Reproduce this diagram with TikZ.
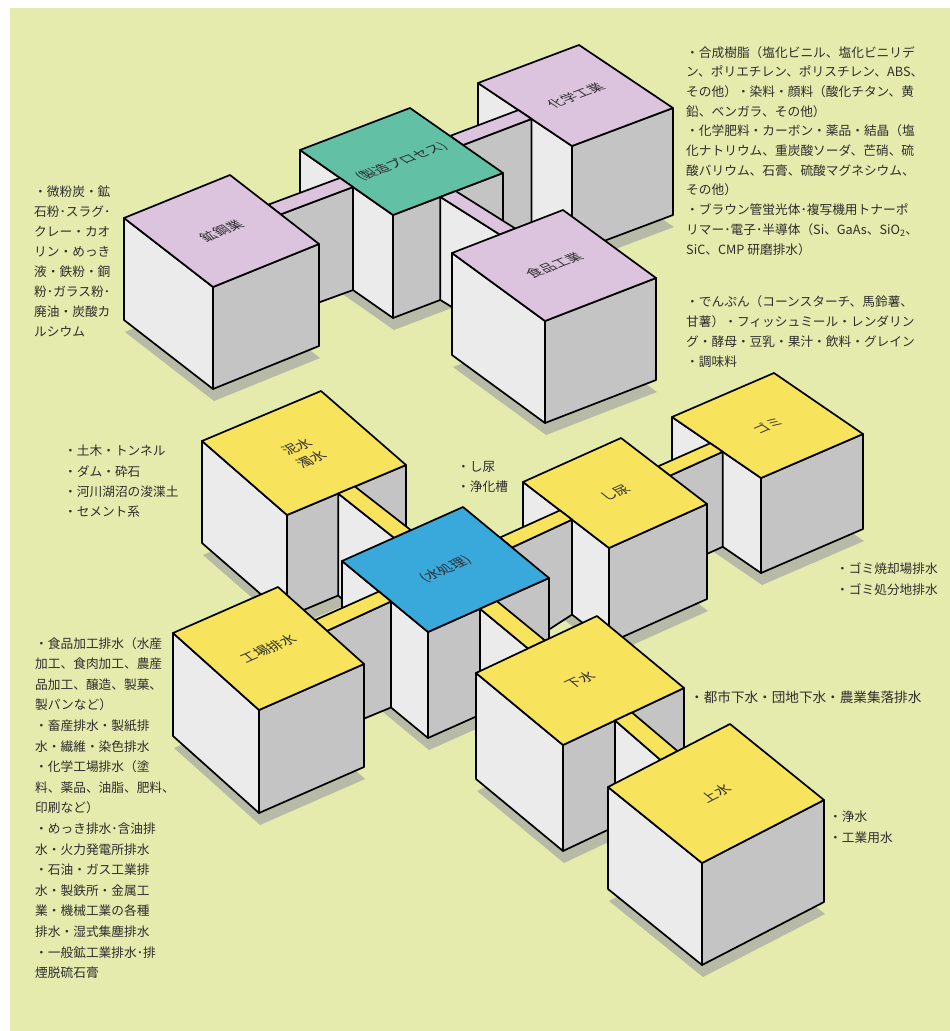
\documentclass[tikz,border=0pt]{standalone}
\usepackage{fontspec}
\newfontfamily\jp{Noto Sans CJK JP}
\usetikzlibrary{calc}
\definecolor{bglime}{HTML}{E4EBAD}
\definecolor{lav}{HTML}{DCC3DE}
\definecolor{tealtop}{HTML}{62C0A4}
\definecolor{yel}{HTML}{F8E45C}
\definecolor{blu}{HTML}{39A8DB}
\definecolor{facelight}{HTML}{EBEBEB}
\definecolor{facegrey}{HTML}{C4C4C4}
\definecolor{shadowc}{HTML}{B7BAA6}
\definecolor{txt}{HTML}{2E2E2E}
\tikzset{
  edgeline/.style={draw=black, line width=1.7pt, line join=round},
  sidetext/.style={font=\jp\fontsize{12.7}{20.3}\selectfont, text=txt, align=left, inner sep=0pt, anchor=north west},
  toplabel/.style={font=\jp\fontsize{14}{19}\selectfont, text=txt, align=center, inner sep=0pt},
}
% cube corner coordinates: L (left), T (top), R (right), B (bottom) of the top face
\newcommand{\defcube}[7]{%
  \coordinate (#1-L) at (#2,#3);
  \coordinate (#1-T) at ({#2+(#4)},{#3+(#5)});
  \coordinate (#1-R) at ({#2+(#4)+(#6)},{#3+(#5)+(#7)});
  \coordinate (#1-B) at ({#2+(#6)},{#3+(#7)});
}
\newcommand{\cubeshadow}[2]{%
  \fill[shadowc] ($(#1-L)+(1,#2+12)$) -- ($(#1-B)+(1,#2+12)$) -- ($(#1-R)+(1,#2+12)$) -- ($(#1-T)+(1,#2+12)$) -- cycle;
}
\newcommand{\drawcube}[3]{%
  \filldraw[edgeline, fill=facelight] (#1-L) -- (#1-B) -- ($(#1-B)+(0,#2)$) -- ($(#1-L)+(0,#2)$) -- cycle;
  \filldraw[edgeline, fill=facegrey] (#1-B) -- (#1-R) -- ($(#1-R)+(0,#2)$) -- ($(#1-B)+(0,#2)$) -- cycle;
  \filldraw[edgeline, fill=#3] (#1-L) -- (#1-T) -- (#1-R) -- (#1-B) -- cycle;
}
% beam along u: #1 front cube A (height #2), #3 back cube B (height #4), colour #5
\newcommand{\ubeam}[5]{%
  \coordinate (bm1) at ($(#1-T)!0.43!(#1-R)$);
  \coordinate (bm2) at ($(#1-T)!0.57!(#1-R)$);
  \coordinate (bm3) at ($(#3-L)!0.57!(#3-B)$);
  \coordinate (bm4) at ($(#3-L)!0.43!(#3-B)$);
  \filldraw[edgeline, fill=facegrey] (bm2) -- (bm3) -- ($(bm3)+(0,#4)$) -- ($(bm2)+(0,#2)$) -- cycle;
  \filldraw[edgeline, fill=#5] (bm1) -- (bm2) -- (bm3) -- (bm4) -- cycle;
}
% beam along v: #1 back cube P (height #2), #3 front cube Q (height #4), colour #5
\newcommand{\vbeam}[5]{%
  \coordinate (bm1) at ($(#1-B)!0.43!(#1-R)$);
  \coordinate (bm2) at ($(#1-B)!0.57!(#1-R)$);
  \coordinate (bm3) at ($(#3-L)!0.57!(#3-T)$);
  \coordinate (bm4) at ($(#3-L)!0.43!(#3-T)$);
  \filldraw[edgeline, fill=facelight] (bm1) -- (bm4) -- ($(bm4)+(0,#4)$) -- ($(bm1)+(0,#2)$) -- cycle;
  \filldraw[edgeline, fill=#5] (bm1) -- (bm2) -- (bm3) -- (bm4) -- cycle;
}
% label lying on a top face
\newcommand{\facelabel}[7]{%
  \pgfmathsetmacro\qqnu{10*sqrt((#2/10)*(#2/10)+(#3/10)*(#3/10))}%
  \pgfmathsetmacro\qqnv{10*sqrt((#4/10)*(#4/10)+(#5/10)*(#5/10))}%
  \pgfmathsetmacro\qqa{(#2)/\qqnu}%
  \pgfmathsetmacro\qqb{-(#3)/\qqnu}%
  \pgfmathsetmacro\qqc{-(#4)/\qqnv}%
  \pgfmathsetmacro\qqd{(#5)/\qqnv}%
  \node[toplabel, cm={\qqa,\qqb,\qqc,\qqd,(0,0)}] (#6) at ($(#1-L)!0.5!(#1-R)$) {#7};
}
\begin{document}
\begin{tikzpicture}[x=1pt,y=-1pt]
\useasboundingbox (0,0) rectangle (950,1031);
\fill[white] (0,0) rectangle (950,1031);
\fill[bglime] (10,8) rectangle (950,1031);

% ---------- upper cluster ----------
\defcube{kou}{124}{218}{106}{-43}{89}{69}
\defcube{sei}{300}{150}{110}{-42}{93}{65}
\defcube{kag}{478}{83}{101}{-38}{94}{63}
\defcube{sho}{452}{253}{111}{-43}{93}{68}

\cubeshadow{kag}{107}
\cubeshadow{sei}{103}
\cubeshadow{kou}{102}
\cubeshadow{sho}{102}

\drawcube{kag}{107}{lav}
\ubeam{sei}{103}{kag}{107}{lav}
\drawcube{sei}{103}{tealtop}
\vbeam{sei}{103}{sho}{102}{lav}
\ubeam{kou}{102}{sei}{103}{lav}
\drawcube{kou}{102}{lav}
\drawcube{sho}{102}{lav}

% ---------- lower cluster ----------
\defcube{dei}{202}{441}{119}{-50}{85}{74}
\defcube{mizu}{342}{561}{121}{-54}{86}{71}
\defcube{kojo}{173}{633}{105}{-46}{86}{77}
\defcube{gesu}{476}{673}{121}{-57}{87}{72}
\defcube{shin}{523}{482}{98}{-44}{86}{66}
\defcube{gomi}{672}{417}{102}{-44}{89}{61}
\defcube{jo}{608}{787}{122}{-63}{94}{76}

\cubeshadow{gomi}{95}
\cubeshadow{shin}{95}
\cubeshadow{dei}{102}
\cubeshadow{mizu}{106}
\cubeshadow{kojo}{103}
\cubeshadow{gesu}{106}
\cubeshadow{jo}{102}

\drawcube{gomi}{95}{yel}
\ubeam{shin}{95}{gomi}{95}{yel}
\drawcube{dei}{102}{yel}
\drawcube{shin}{95}{yel}
\vbeam{dei}{102}{mizu}{106}{yel}
\ubeam{mizu}{106}{shin}{95}{yel}
\drawcube{mizu}{106}{blu}
\ubeam{kojo}{103}{mizu}{106}{yel}
\vbeam{mizu}{106}{gesu}{106}{yel}
\drawcube{kojo}{103}{yel}
\drawcube{gesu}{106}{yel}
\vbeam{gesu}{106}{jo}{102}{yel}
\drawcube{jo}{102}{yel}

% ---------- labels on the top faces ----------
\facelabel{kou}{106}{-43}{89}{69}{lkou}{鉱鋼業}
\facelabel{sei}{110}{-42}{93}{65}{lsei}{(製造プロセス)}
\facelabel{kag}{101}{-38}{94}{63}{lkag}{化学工業}
\facelabel{sho}{111}{-43}{93}{68}{lsho}{食品工業}
\facelabel{dei}{119}{-50}{85}{74}{ldei}{泥水\\濁水}
\facelabel{mizu}{121}{-54}{86}{71}{lmizu}{(水処理)}
\facelabel{kojo}{105}{-46}{86}{77}{lkojo}{工場排水}
\facelabel{gesu}{121}{-57}{87}{72}{lgesu}{下水}
\facelabel{shin}{98}{-44}{86}{66}{lshin}{し尿}
\facelabel{gomi}{102}{-44}{89}{61}{lgomi}{ゴミ}
\facelabel{jo}{122}{-63}{94}{76}{ljo}{上水}

% ---------- descriptive texts ----------
\node[sidetext, font=\jp\fontsize{12.7}{19.7}\selectfont] (tchem) at (686,46) {・合成樹脂（塩化ビニル、塩化ビニリデ\\ン、ポリエチレン、ポリスチレン、ABS、\\その他）・染料・顔料（酸化チタン、黄\\鉛、ベンガラ、その他）\\・化学肥料・カーボン・薬品・結晶（塩\\化ナトリウム、重炭酸ソーダ、芒硝、硫\\酸バリウム、石膏、硫酸マグネシウム、\\その他）\\・ブラウン管蛍光体･複写機用トナーポ\\リマー･電子･半導体（Si、GaAs、SiO\textsubscript{2}、\\SiC、CMP 研磨排水）};
\node[sidetext] (tfood) at (686,295) {・でんぷん（コーンスターチ、馬鈴薯、\\甘薯）・フィッシュミール・レンダリン\\グ・酵母・豆乳・果汁・飲料・グレイン\\・調味料};
\node[sidetext, font=\jp\fontsize{12.7}{20}\selectfont] (tmine) at (34,186) {・微粉炭・鉱\\石粉･スラグ･\\クレー・カオ\\リン・めっき\\液・鉄粉・銅\\粉･ガラス粉･\\廃油・炭酸カ\\ルシウム};
\node[sidetext] (tcivil) at (64,445) {・土木・トンネル\\・ダム・砕石\\・河川湖沼の浚渫土\\・セメント系};
\node[sidetext] (tnight) at (457,461) {・し尿\\・浄化槽};
\node[sidetext, font=\jp\fontsize{12.7}{21}\selectfont] (tgarb) at (836,562) {・ゴミ焼却場排水\\・ゴミ処分地排水};
\node[sidetext, font=\jp\fontsize{13.6}{20}\selectfont] (tsew) at (690,691) {・都市下水・団地下水・農業集落排水};
\node[sidetext] (twater) at (829,811) {・浄水\\・工業用水};
\node[sidetext, font=\jp\fontsize{12.7}{20.6}\selectfont] (tfact) at (35,637) {・食品加工排水（水産\\加工、食肉加工、農産\\品加工、醸造、製菓、\\製パンなど）\\・畜産排水・製紙排\\水・繊維・染色排水\\・化学工場排水（塗\\料、薬品、油脂、肥料、\\印刷など）\\・めっき排水･含油排\\水・火力発電所排水\\・石油・ガス工業排\\水・製鉄所・金属工\\業・機械工業の各種\\排水・湿式集塵排水\\・一般鉱工業排水･排\\煙脱硫石膏};
\end{tikzpicture}
\end{document}
